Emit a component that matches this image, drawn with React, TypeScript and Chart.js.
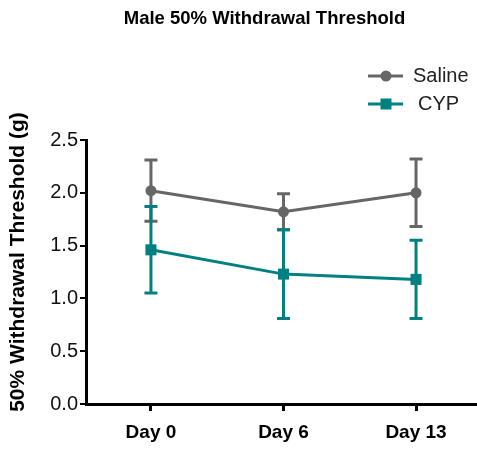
import React, { useEffect, useRef } from 'react';
import { Chart, registerables } from 'chart.js';

Chart.register(...registerables);

const chartTitle = 'Male 50% Withdrawal Threshold';
const yTitle = '50% Withdrawal Threshold (g)';
const categories = ['Day 0', 'Day 6', 'Day 13'];
const seriesNames = ['Saline', 'CYP'];
const salineMean = [2.02, 1.82, 2.0];
const salineErr = [0.29, 0.17, 0.32];
const cypMean = [1.46, 1.23, 1.18];
const cypErr = [0.41, 0.42, 0.37];
const yTickValues = [0, 0.5, 1.0, 1.5, 2.0, 2.5];

const GRAY = '#666666';
const TEAL = '#008080';
const FONT = '"Liberation Sans", Arial, Helvetica, sans-serif';

const errorBarPlugin = {
  id: 'errorBars',
  afterDatasetDraw(chart: any, args: any) {
    const ds: any = chart.data.datasets[args.index];
    const errs: number[] = ds.errors || [];
    const yScale = chart.scales.y;
    const ctx = chart.ctx;
    ctx.save();
    ctx.strokeStyle = ds.borderColor;
    ctx.lineWidth = 3;
    args.meta.data.forEach((el: any, i: number) => {
      const v = ds.data[i].y;
      const e = errs[i];
      const x = el.x;
      const yt = yScale.getPixelForValue(v + e);
      const yb = yScale.getPixelForValue(v - e);
      ctx.beginPath();
      ctx.moveTo(x, yt);
      ctx.lineTo(x, yb);
      ctx.moveTo(x - 6.5, yt);
      ctx.lineTo(x + 6.5, yt);
      ctx.moveTo(x - 6.5, yb);
      ctx.lineTo(x + 6.5, yb);
      ctx.stroke();
    });
    ctx.restore();
  },
};

const titleLegendPlugin = {
  id: 'titleLegend',
  afterDraw(chart: any) {
    const ctx = chart.ctx;
    ctx.save();
    ctx.fillStyle = '#000';
    ctx.font = `bold 18.5px ${FONT}`;
    ctx.textAlign = 'center';
    ctx.textBaseline = 'middle';
    ctx.fillText(chartTitle, 264.5, 19);

    ctx.save();
    ctx.translate(18, 262);
    ctx.rotate(-Math.PI / 2);
    ctx.font = `bold 21px ${FONT}`;
    ctx.fillText(yTitle, 0, 0);
    ctx.restore();

    const rows = [76, 104];
    const textX = [413, 418];
    chart.data.datasets.forEach((ds: any, i: number) => {
      const y = rows[i];
      ctx.strokeStyle = ds.borderColor;
      ctx.fillStyle = ds.borderColor;
      ctx.lineWidth = 3;
      ctx.beginPath();
      ctx.moveTo(368, y);
      ctx.lineTo(403, y);
      ctx.stroke();
      ctx.beginPath();
      if (ds.pointStyle === 'rect') {
        ctx.rect(386 - 5.5, y - 5.5, 11, 11);
      } else {
        ctx.arc(386, y, 5.5, 0, Math.PI * 2);
      }
      ctx.fill();
      ctx.fillStyle = '#222';
      ctx.font = `20px ${FONT}`;
      ctx.textAlign = 'left';
      ctx.textBaseline = 'middle';
      ctx.fillText(ds.label, textX[i], y);
    });
    ctx.restore();
  },
};

export default function App() {
  const ref = useRef<HTMLCanvasElement | null>(null);

  useEffect(() => {
    document.body.style.margin = '0';
    const canvas = ref.current;
    if (!canvas) return;
    const chart = new Chart(canvas, {
      type: 'line',
      data: {
        datasets: [
          {
            label: seriesNames[0],
            data: salineMean.map((v, i) => ({ x: i, y: v })),
            errors: salineErr,
            borderColor: GRAY,
            backgroundColor: GRAY,
            borderWidth: 3,
            pointStyle: 'circle',
            pointRadius: 5.5,
            pointBorderWidth: 0,
            order: 1,
          } as any,
          {
            label: seriesNames[1],
            data: cypMean.map((v, i) => ({ x: i, y: v })),
            errors: cypErr,
            borderColor: TEAL,
            backgroundColor: TEAL,
            borderWidth: 3,
            pointStyle: 'rect',
            pointRadius: 7.8,
            pointBorderWidth: 0,
            order: 0,
          } as any,
        ],
      },
      options: {
        animation: false,
        responsive: false,
        layout: { autoPadding: false, padding: { top: 140, left: 0, right: 0, bottom: 0 } },
        plugins: {
          legend: { display: false },
          title: { display: false },
          tooltip: { enabled: false },
        },
        scales: {
          x: {
            type: 'linear',
            min: -0.49,
            max: 2.46,
            afterBuildTicks: (scale: any) => {
              scale.ticks = categories.map((_, i) => ({ value: i }));
            },
            afterFit: (scale: any) => {
              scale.height = 45;
              scale.paddingLeft = 0;
              scale.paddingRight = 0;
            },
            ticks: {
              callback: (v: any) => categories[Math.round(Number(v))],
              color: '#000',
              font: { family: FONT, size: 19, weight: 'bold' },
              padding: 10,
              maxRotation: 0,
              autoSkip: false,
            },
            grid: {
              display: true,
              drawOnChartArea: false,
              drawTicks: true,
              tickLength: 7,
              lineWidth: 3,
              color: '#000',
            },
            border: { display: true, color: '#000', width: 3 },
          },
          y: {
            type: 'linear',
            min: 0,
            max: 2.5,
            afterBuildTicks: (scale: any) => {
              scale.ticks = yTickValues.map((v) => ({ value: v }));
            },
            afterFit: (scale: any) => {
              scale.width = 86;
              scale.paddingTop = 0;
              scale.paddingBottom = 0;
            },
            ticks: {
              callback: (v: any) => Number(v).toFixed(1),
              color: '#111',
              font: { family: FONT, size: 20 },
              padding: 2,
            },
            grid: {
              display: true,
              drawOnChartArea: false,
              drawTicks: true,
              tickLength: 6,
              lineWidth: 2,
              color: '#000',
            },
            border: { display: true, color: '#000', width: 3 },
          },
        },
      } as any,
      plugins: [errorBarPlugin, titleLegendPlugin],
    });
    return () => chart.destroy();
  }, []);

  return (
    <div style={{ width: 477, height: 449 }}>
      <canvas ref={ref} width={477} height={449} />
    </div>
  );
}
